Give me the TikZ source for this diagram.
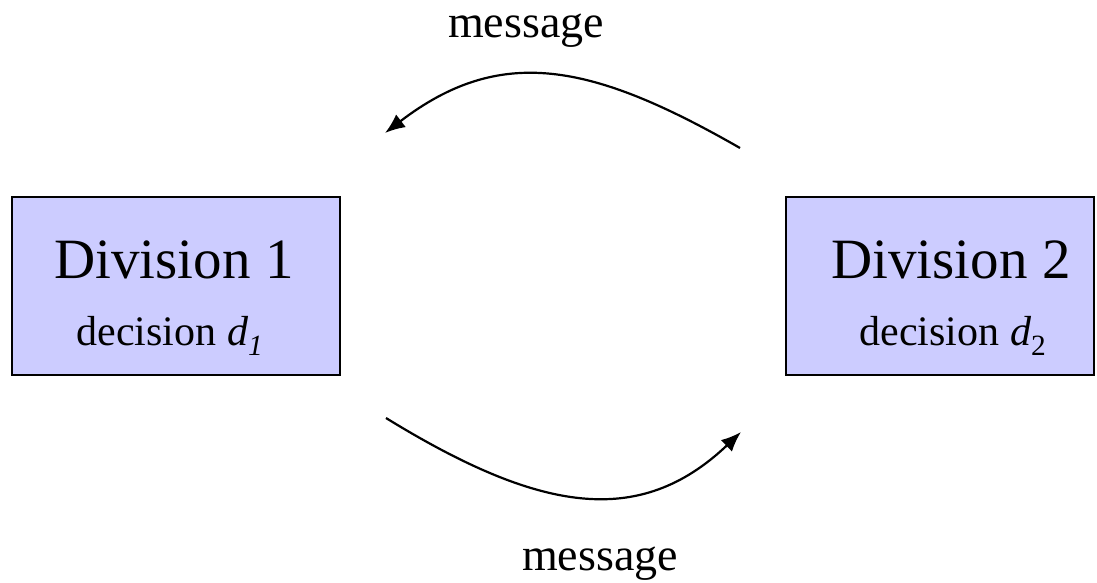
\documentclass[tikz,border=0pt]{standalone}
\usepackage{fontspec}
\setmainfont{Liberation Serif}
\usepackage{tikz}
\usetikzlibrary{arrows.meta}

\definecolor{boxblue}{HTML}{CCCCFF}

\begin{document}
\begin{tikzpicture}[x=1pt, y=-1pt,
	division/.style={draw, line width=2pt, fill=boxblue, minimum height=178pt, inner sep=0pt},
	divname/.style={anchor=base, font=\fontsize{57}{60}\selectfont},
	decide/.style={anchor=base, font=\fontsize{42}{46}\selectfont},
	msgarrow/.style={line width=2.2pt, -{Latex[length=20pt, width=16pt]}},
	msg/.style={anchor=base, font=\fontsize{46}{48}\selectfont}]
\useasboundingbox (0,0) rectangle (1097,582);
% the two divisions
\node [division, minimum width=328pt] (div1) at (175.5,286) {};
\node [division, minimum width=308pt] (div2) at (940,286) {};
\node [divname] (name1) at (174,278) {Division 1};
\node [decide] (dec1) at (170,345) {decision \textit{d}\textsubscript{\textit{1}}};
\node [divname] (name2) at (951,278) {Division 2};
\node [decide] (dec2) at (953,345) {decision \textit{d}\textsubscript{2}};
% messages between them
\coordinate (top start) at (740,148);
\coordinate (top end) at (385,133);
\coordinate (low start) at (386,418);
\coordinate (low end) at (741,432);
\draw [msgarrow] (top start) .. controls (590,62) and (500,45) .. (top end);
\draw [msgarrow] (low start) .. controls (539,512) and (639,529) .. (low end);
\node [msg] (msg top) at (526,37) {message};
\node [msg] (msg low) at (600,570) {message};
\end{tikzpicture}
\end{document}
